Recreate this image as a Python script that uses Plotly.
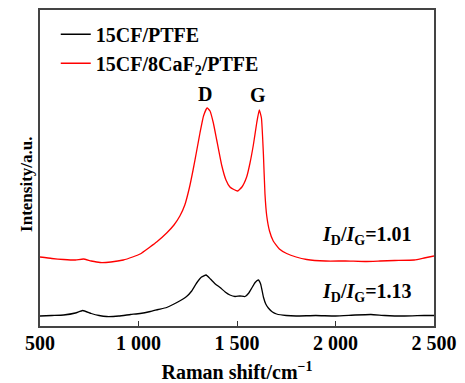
import plotly.graph_objects as go

# Raman shift (cm^-1) and intensities (a.u.)
x_black = [500, 560, 620, 680, 717, 760, 800, 838, 900, 960, 1008, 1060, 1100, 1143, 1190, 1244,
           1270, 1295, 1320, 1343, 1365, 1390, 1414, 1440, 1464, 1490, 1515, 1541, 1560, 1575,
           1592, 1608, 1620, 1634, 1646, 1659, 1680, 1701, 1750, 1800, 1900, 2000, 2100, 2180,
           2250, 2350, 2450, 2500]
y_black = [10, 10.5, 11, 13, 15.5, 12.5, 10.5, 9.5, 10, 11.5, 12.5, 14.5, 16.5, 18.5, 23, 29.5,
           35, 43, 49, 51, 47, 42, 38.5, 34, 31, 29.5, 30, 29.5, 33, 38, 43.5, 46, 42, 29,
           22, 18, 14, 12, 10.5, 10, 10.5, 10, 11, 11.5, 10.5, 10, 10.5, 10.5]

x_red = [500, 560, 620, 680, 720, 760, 805, 860, 923, 970, 1008, 1058, 1092, 1143, 1180, 1210,
         1235, 1258, 1277, 1297, 1312, 1330, 1348, 1363, 1380, 1397, 1422, 1444, 1464, 1484,
         1503, 1525, 1549, 1566, 1583, 1600, 1613, 1624, 1634, 1642, 1651, 1665, 1684, 1715,
         1752, 1800, 1854, 1950, 2050, 2150, 2226, 2300, 2400, 2450, 2500]
y_red = [69, 67.5, 66.5, 66, 67, 65, 63.5, 64, 66, 69, 72, 79, 84, 93, 101, 110,
         121, 138, 156, 177, 193, 210, 218, 215, 203, 186, 161, 146, 139, 136.5,
         135, 139, 149, 163, 181, 203, 216, 208, 172, 132, 110, 95, 85, 77,
         72.5, 69, 66.5, 65, 65, 64.5, 65, 65.5, 66, 68, 70]

tick_vals = [500, 1000, 1500, 2000, 2500]
tick_text = ["500", "1 000", "1 500", "2 000", "2 500"]

FONT = "Liberation Serif"
FS = 20

fig = go.Figure()
fig.add_trace(go.Scatter(x=x_black, y=y_black, mode="lines", name="<b>15CF/PTFE</b>",
                         line=dict(color="black", width=1.3, shape="spline", smoothing=0.4)))
fig.add_trace(go.Scatter(x=x_red, y=y_red, mode="lines", name="<b>15CF/8CaF<sub>2</sub>/PTFE</b>",
                         line=dict(color="#ff0000", width=1.3, shape="spline", smoothing=0.4)))

annots = [
    (1335, 232.5, "<b>D</b>"),
    (1609, 231, "<b>G</b>"),
    (2160, 91, "<b><i>I</i><sub>D</sub>/<i>I</i><sub>G</sub>=1.01</b>"),
    (2160, 34, "<b><i>I</i><sub>D</sub>/<i>I</i><sub>G</sub>=1.13</b>"),
]
for ax_, ay_, txt in annots:
    fig.add_annotation(x=ax_, y=ay_, text=txt, showarrow=False,
                       font=dict(family=FONT, color="black", size=FS))

fig.add_annotation(xref="paper", yref="paper", x=-0.036, y=0.449, text="<b>Intensity/a.u.</b>",
                   textangle=-90, showarrow=False, xanchor="center", yanchor="middle",
                   font=dict(family=FONT, color="black", size=17))

fig.update_layout(
    width=465, height=383,
    margin=dict(l=40, r=31, t=10, b=57),
    paper_bgcolor="white", plot_bgcolor="white",
    font=dict(family=FONT, color="black"),
    showlegend=True,
    legend=dict(x=0.04, y=0.985, xanchor="left", yanchor="top",
                font=dict(family=FONT, size=FS, color="black"),
                bgcolor="rgba(0,0,0,0)", tracegroupgap=0, itemwidth=30),
    xaxis=dict(range=[500, 2500], tickvals=tick_vals, ticktext=["<b>%s</b>" % t for t in tick_text],
               ticks="inside", ticklen=5, tickwidth=1.2, tickcolor="#333",
               ticklabelstandoff=-2, automargin=False,
               showline=True, linecolor="#444", linewidth=1.5, mirror=True,
               showgrid=False, zeroline=False,
               tickfont=dict(family=FONT, size=FS, color="black", weight="bold"),
               title=dict(text="<b>Raman shift/cm<sup>−1</sup></b>",
                          font=dict(family=FONT, size=FS, color="black"), standoff=16)),
    yaxis=dict(range=[0, 316], showticklabels=False, ticks="", automargin=False,
               showline=True, linecolor="#444", linewidth=1.5, mirror=True,
               showgrid=False, zeroline=False),
)

fig.write_html("out.html")
